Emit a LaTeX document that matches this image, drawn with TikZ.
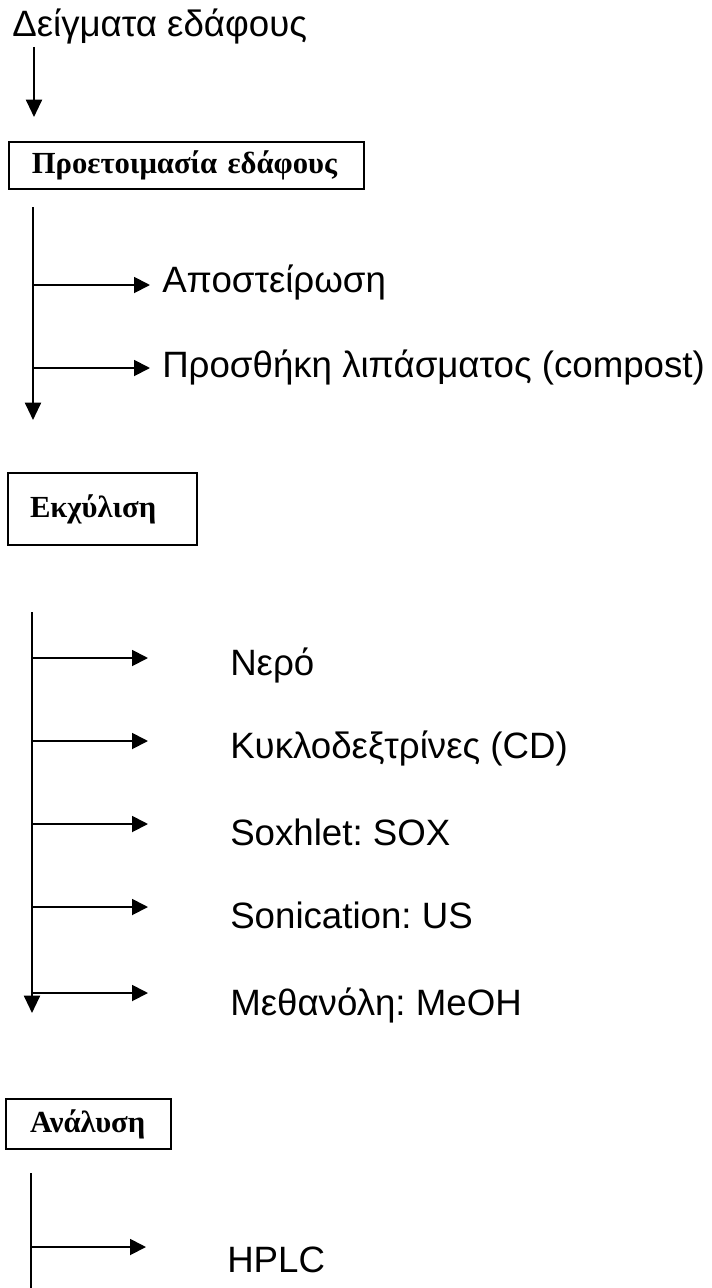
\documentclass[tikz,border=0pt]{standalone}
\usepackage{fontspec}
\setmainfont{Liberation Sans}
\newfontfamily\boxfont{Liberation Serif}
\usetikzlibrary{arrows.meta}
\frenchspacing
\begin{document}
\begin{tikzpicture}[x=0.75pt,y=-0.75pt,
  lbl/.style={anchor=base west,inner sep=0pt,font=\fontsize{27.5}{31}\selectfont},
  stagebox/.style={draw,line width=1.5pt,inner sep=0pt,align=left,font=\boxfont\bfseries\fontsize{23}{26}\selectfont},
  trunk/.style={line width=1.5pt},
  flow/.style={line width=1.4pt,-{Triangle[length=12pt,width=12pt]}},
  bigflow/.style={line width=1.5pt,-{Triangle[length=13pt,width=12pt]}}]
\useasboundingbox (0,0) rectangle (712,1288);

% title
\node[lbl] (title) at (12,37) {Δείγματα εδάφους};
\coordinate (t0) at (34,47);
\coordinate (t1) at (34,117);
\draw[bigflow] (t0) -- (t1);

% stage 1
\node[stagebox,minimum width=266.25pt,minimum height=35.25pt,text width=232pt] (prep) at (186.5,165.5) {Προετοιμασία εδάφους};
\coordinate (p0) at (33,207);
\coordinate (p1) at (33,285);
\coordinate (p2) at (33,368);
\coordinate (p3) at (33,420);
\coordinate (pa1) at (150,285);
\coordinate (pa2) at (150,368);
\draw[bigflow] (p0) -- (p3);
\draw[flow] (p1) -- (pa1);
\draw[flow] (p2) -- (pa2);
\node[lbl] (ster) at (162,292) {Αποστείρωση};
\node[lbl] (comp) at (162,377) {Προσθήκη λιπάσματος (compost)};

% stage 2
\node[stagebox,minimum width=141.75pt,minimum height=54pt,text width=108.75pt] (extr) at (102.5,509) {Εκχύλιση};
\coordinate (e0) at (32,612);
\coordinate (e1) at (32,658);
\coordinate (e2) at (32,741);
\coordinate (e3) at (32,824);
\coordinate (e4) at (32,907);
\coordinate (e5) at (32,993);
\coordinate (e6) at (32,1013);
\coordinate (ea1) at (148,658);
\coordinate (ea2) at (148,741);
\coordinate (ea3) at (148,824);
\coordinate (ea4) at (148,907);
\coordinate (ea5) at (148,993);
\draw[bigflow] (e0) -- (e6);
\draw[flow] (e1) -- (ea1);
\draw[flow] (e2) -- (ea2);
\draw[flow] (e3) -- (ea3);
\draw[flow] (e4) -- (ea4);
\draw[flow] (e5) -- (ea5);
\node[lbl] (water) at (230,675) {Νερό};
\node[lbl] (cd) at (230,758) {Κυκλοδεξτρίνες (CD)};
\node[lbl] (sox) at (230,845) {Soxhlet: SOX};
\node[lbl] (us) at (230,928) {Sonication: US};
\node[lbl] (meoh) at (230,1015) {Μεθανόλη: MeOH};

% stage 3
\node[stagebox,minimum width=123.75pt,minimum height=37.5pt,text width=87.75pt] (anal) at (88.5,1124) {Ανάλυση};
\coordinate (n0) at (31,1173);
\coordinate (n1) at (31,1247);
\coordinate (n2) at (31,1288);
\coordinate (na1) at (146,1247);
\draw[trunk] (n0) -- (n2);
\draw[flow] (n1) -- (na1);
\node[lbl] (hplc) at (227,1272) {HPLC};
\end{tikzpicture}
\end{document}
